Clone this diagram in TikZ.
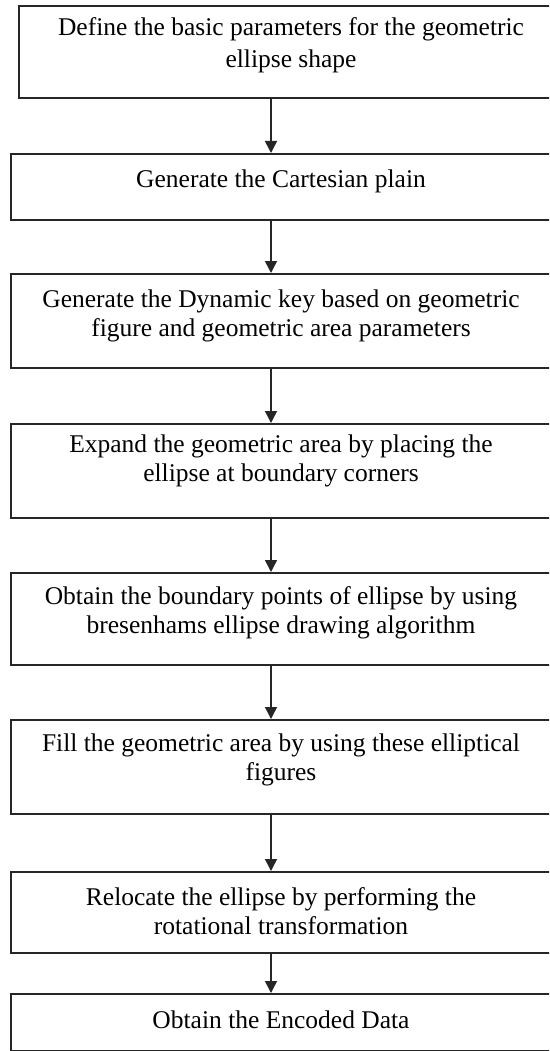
\documentclass[tikz,border=0pt]{standalone}
\usepackage{fontspec}
\setmainfont{Liberation Serif}
\usetikzlibrary{arrows.meta}
\tikzset{
  stepbox/.style={draw=black!85, line width=1.6pt, rectangle, inner sep=0pt, anchor=north west, minimum width=542pt},
  txt/.style={align=center, inner sep=0pt, font=\fontsize{25.5}{29}\selectfont},
  txtwide/.style={align=center, inner sep=0pt, font=\fontsize{25.5}{32}\selectfont},
  arr/.style={draw=black!85, line width=1.5pt, -{Triangle[width=12pt,length=12pt]}}
}
\begin{document}
\begin{tikzpicture}[x=1pt,y=-1pt]
\clip (0,0) rectangle (549,1051);
\coordinate (ax) at (271,0);
\node[stepbox, minimum height=92pt] (b1) at (18,5) {};
\node[stepbox, minimum width=550pt, minimum height=66pt] (b2) at (10,153) {};
\node[stepbox, minimum width=550pt, minimum height=94pt] (b3) at (10,273) {};
\node[stepbox, minimum width=550pt, minimum height=94pt] (b4) at (10,423) {};
\node[stepbox, minimum width=550pt, minimum height=92pt] (b5) at (10,572) {};
\node[stepbox, minimum width=550pt, minimum height=94pt] (b6) at (10,719) {};
\node[stepbox, minimum width=550pt, minimum height=81pt] (b7) at (10,871) {};
\node[stepbox, minimum width=550pt, minimum height=57pt] (b8) at (10,993) {};

\node[txtwide] (t1) at (291,45) {Define the basic parameters for the geometric\\ellipse shape};
\node[txt] (t2) at (281,181) {Generate the Cartesian plain};
\node[txt] (t3) at (281,316) {Generate the Dynamic key based on geometric\\figure and geometric area parameters};
\node[txt] (t4) at (281,461) {Expand the geometric area by placing the\\ellipse at boundary corners};
\node[txt] (t5) at (281,613) {Obtain the boundary points of ellipse by using\\bresenhams ellipse drawing algorithm};
\node[txt] (t6) at (281,760) {Fill the geometric area by using these elliptical\\figures};
\node[txt] (t7) at (281,911) {Relocate the ellipse by performing the\\rotational transformation};
\node[txt] (t8) at (281,1020) {Obtain the Encoded Data};

\draw[arr] (b1.south -| ax) -- (b2.north -| ax);
\draw[arr] (b2.south -| ax) -- (b3.north -| ax);
\draw[arr] (b3.south -| ax) -- (b4.north -| ax);
\draw[arr] (b4.south -| ax) -- (b5.north -| ax);
\draw[arr] (b5.south -| ax) -- (b6.north -| ax);
\draw[arr] (b6.south -| ax) -- (b7.north -| ax);
\draw[arr] (b7.south -| ax) -- (b8.north -| ax);
\end{tikzpicture}
\end{document}
